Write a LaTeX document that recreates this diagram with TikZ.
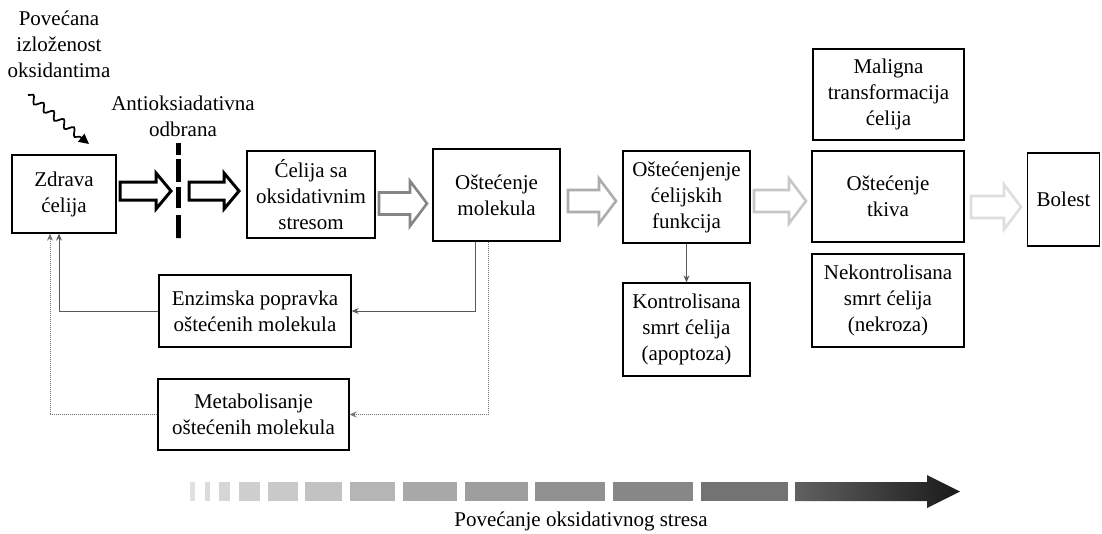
\documentclass[tikz,border=0pt]{standalone}
\usepackage{fontspec}
\setmainfont{Liberation Serif}
\usetikzlibrary{arrows.meta,decorations.pathmorphing}
% hollow block arrow: style, left x, tip x, centre y, shaft half-height, head half-height, head length
\newcommand{\fatarrow}[7]{%
  \draw[#1] (#2,#4-#5) -- (#3-#7,#4-#5) -- (#3-#7,#4-#6) -- (#3,#4)
    -- (#3-#7,#4+#6) -- (#3-#7,#4+#5) -- (#2,#4+#5) -- cycle;}
\begin{document}
\begin{tikzpicture}[x=1pt,y=-1pt,
  txt/.style={align=center, inner sep=0pt, font=\fontsize{21}{26}\selectfont},
  box/.style={txt, draw=black, line width=1.3pt, fill=white},
  blackfat/.style={draw=black, fill=white, line width=3pt, line join=miter},
  greyfat/.style={draw=#1, fill=white, line width=2.6pt, line join=miter},
  conn/.style={draw=black!65, line width=1pt, -{Stealth[length=7pt,width=6pt]}},
  dconn/.style={draw=black!55, line width=1pt, densely dotted, -{Stealth[length=7pt,width=6pt]}}
]
\useasboundingbox (0,0) rectangle (1102,533);

% main chain of boxes
\node[box, minimum width=104pt, minimum height=78pt] (zdrava) at (64,194) {Zdrava\\ćelija};
\node[box, minimum width=128pt, minimum height=87pt] (stres) at (311,194.5) {Ćelija sa\\oksidativnim\\stresom};
\node[box, minimum width=127pt, minimum height=92pt] (molekula) at (496.5,195) {Oštećenje\\molekula};
\node[box, minimum width=127pt, minimum height=92pt] (funkcija) at (686.5,197) {Oštećenjenje\\ćelijskih\\funkcija};
\node[box, minimum width=152pt, minimum height=91pt] (tkiva) at (888,196.5) {Oštećenje\\tkiva};
\node[box, minimum width=151pt, minimum height=91pt] (maligna) at (888.5,94.5) {Maligna\\transformacija\\ćelija};
\node[box, minimum width=152pt, minimum height=93pt] (nekroza) at (888,300.5) {Nekontrolisana\\smrt ćelija\\(nekroza)};
\node[box, minimum width=72pt, minimum height=93pt] (bolest) at (1063.5,199.5) {Bolest};
\node[box, minimum width=127pt, minimum height=93pt] (apoptoza) at (686.5,329.5) {Kontrolisana\\smrt ćelija\\(apoptoza)};

% repair boxes
\node[box, minimum width=192pt, minimum height=72pt] (enzimska) at (255,311) {Enzimska popravka\\oštećenih molekula};
\node[box, minimum width=191pt, minimum height=71pt] (metabol) at (253.5,414.5) {Metabolisanje\\oštećenih molekula};

% free labels
\node[txt] (izlozenost) at (59,44) {Povećana\\izloženost\\oksidantima};
\node[txt] (odbrana) at (183,116) {Antioksiadativna\\odbrana};
\node[txt] (povecanje) at (581,521) {Povećanje oksidativnog stresa};

% oxidant exposure (wavy arrow)
\coordinate (w0) at (28,95);
\coordinate (w1) at (89,144);
\draw[line width=1.7pt, decorate,
  decoration={snake, amplitude=3.6pt, segment length=13pt, post length=9pt},
  -{Triangle[length=10pt,width=10pt]}] (w0) -- (w1);

% antioxidant barrier
\coordinate (b0) at (178,143);
\coordinate (b1) at (178,238);
\draw[line width=5pt, dash pattern=on 12pt off 4pt on 23pt off 5pt on 21pt off 7pt on 23pt off 0pt] (b0) -- (b1);

% hollow progression arrows
\fatarrow{blackfat}{120}{171}{191}{9}{18}{15}
\fatarrow{blackfat}{189}{239}{191}{9}{18}{15}
\fatarrow{greyfat=black!48}{379}{427}{203.5}{11}{22.5}{17}
\fatarrow{greyfat=black!32}{568}{616}{201}{11}{22.5}{17}
\fatarrow{greyfat=black!22}{754}{806}{201}{11}{22.5}{17}
\fatarrow{greyfat=black!13}{971}{1021}{207}{11}{22.5}{17}

% enzymatic repair loop (solid)
\coordinate (m1) at (475,0);
\coordinate (z1) at (59,0);
\draw[conn] (molekula.south -| m1) |- (enzimska.east);
\draw[conn] (enzimska.west) -| (zdrava.south -| z1);

% metabolic removal loop (dotted)
\coordinate (m2) at (488,0);
\coordinate (z2) at (50,0);
\draw[dconn] (molekula.south -| m2) |- (metabol.east);
\draw[dconn] (metabol.west) -| (zdrava.south -| z2);

% cell function damage -> apoptosis
\draw[conn] (funkcija.south) -- (apoptoza.north);

% increasing oxidative stress bar
\foreach \a/\b/\g in {190/195/12, 205/210/14, 219/230/16, 239/260/19, 268/298/21,
  305/342/24, 350/395/29, 403/457/34, 465/528/38, 535/605/43, 613/693/47, 701/788/55} {
  \fill[black!\g] (\a,482) rectangle (\b,501);
}
\shade[left color=black!62, right color=black!90]
  (795,482) -- (927,482) -- (927,475) -- (960,491.5) -- (927,508) -- (927,501) -- (795,501) -- cycle;
\end{tikzpicture}
\end{document}
